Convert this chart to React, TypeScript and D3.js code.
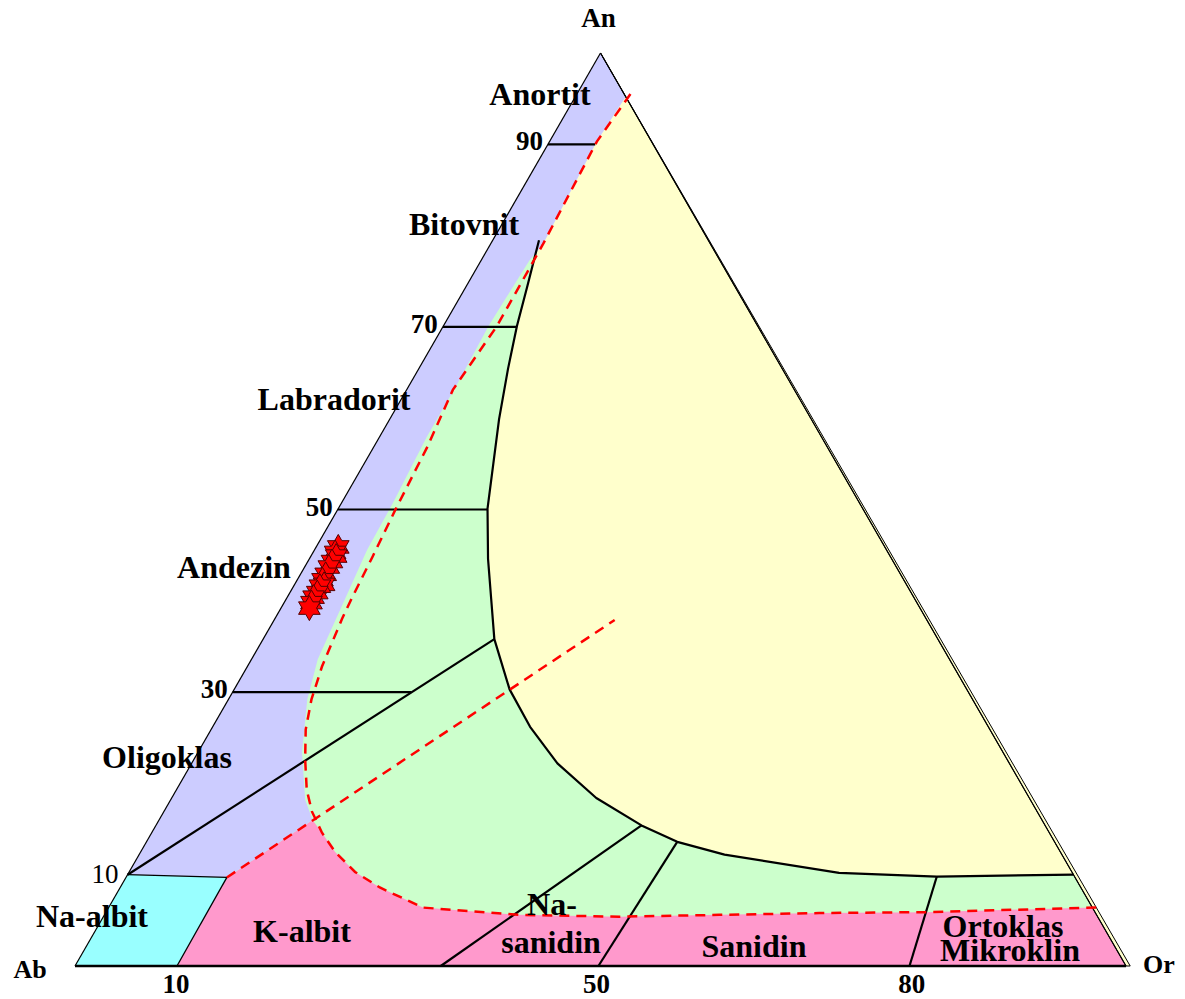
import React from 'react';
import * as d3 from 'd3';

// Ternary compositions as [An %, Or %]  (Ab = 100 - An - Or)
type TP = [number, number];

const samples: TP[] = [
  [45.9, 2.1], [45.3, 2.1], [44.9, 2.4], [44.3, 2.3], [43.7, 2.3], [42.9, 2.4],
  [42.3, 2.4], [41.8, 2.8], [41.6, 2.5], [40.9, 2.6], [40.4, 2.5], [39.8, 2.6],
  [39.2, 2.7],
];

// red dashed solvus
const solvus: TP[] = [
  [95.5, 5.1], [90.3, 4.5], [79.0, 5.0], [70.1, 5.1], [63.1, 4.4], [56.8, 5.1],
  [49.9, 5.5], [44.8, 5.9], [40.2, 6.2], [38.0, 6.4], [32.8, 7.1], [29.2, 7.9],
  [25.9, 9.0], [22.6, 10.6], [19.3, 12.4], [16.9, 14.1], [14.6, 16.2], [12.5, 18.5],
  [10.3, 21.5], [8.6, 24.7], [6.4, 29.9], [5.6, 39.5], [5.4, 49.1], [5.6, 58.5],
  [5.8, 67.9], [5.9, 78.0], [6.4, 94.0],
];
const solvusJoin: TP[] = [[9.7, 9.6], [37.9, 32.4]];

// black boundary of the ternary-feldspar (yellow) field
const feldsparLimit: TP[] = [
  [79.5, 4.4], [74.5, 5.8], [70.1, 7.0], [65.4, 8.5], [59.9, 10.4], [55.0, 12.3],
  [50.1, 14.2], [44.6, 17.0], [40.2, 19.5], [35.8, 22.0], [30.3, 26.2], [26.2, 30.2],
  [22.2, 34.8], [18.4, 40.4], [15.4, 46.2], [13.6, 50.5], [12.2, 55.7], [10.2, 67.6],
  [9.8, 77.1], [10.0, 90.0],
];

// plagioclase (blue) field inner edge
const plagioclaseEdge: TP[] = [
  [95.2, 4.8], [90.3, 4.5], [79.0, 5.0], [77.3, 4.6], [70.1, 4.3], [63.9, 4.5],
  [57.9, 4.5], [50.7, 4.9], [45.6, 5.0], [40.1, 5.6], [33.6, 6.3], [29.2, 7.5],
  [23.4, 9.9], [18.2, 12.8], [16.0, 14.6],
];

const anTicks = [90, 70, 50, 30];
const anTickEndOr = [4.5, 7.0, 14.2, 17.0];
const orTicks = [10, 50, 80];

const divisionLines: TP[][] = [
  [[10, 0], [35.8, 22.0]],
  [[0, 34.8], [15.4, 46.2]],
  [[0, 49.8], [13.6, 50.5]],
  [[0, 79.4], [9.8, 77.1]],
];
const albitLines: TP[][] = [
  [[10, 0], [9.7, 9.6]],
  [[0, 9.7], [9.7, 9.6]],
];

const regionNames = [
  'Anortit', 'Bitovnit', 'Labradorit', 'Andezin', 'Oligoklas', 'Na-albit',
  'K-albit', 'Na-', 'sanidin', 'Sanidin', 'Ortoklas', 'Mikroklin',
];
const regionLayout: [number, number][] = [
  [540, 105], [464, 235], [334, 410], [234, 578], [167, 768], [92, 927],
  [302, 942], [552, 915], [551, 953], [754, 957], [1003, 937], [1010, 961],
];

const xS = d3.scaleLinear().domain([0, 100]).range([75, 1126]);
const yS = d3.scaleLinear().domain([0, 100]).range([966, 53]);
const proj = (p: TP): [number, number] => [xS(p[1] + p[0] / 2), yS(p[0])];

const line = d3.line<TP>().x((d) => proj(d)[0]).y((d) => proj(d)[1]);
const poly = (pts: TP[]) => line(pts) + 'Z';

const hexStar = (() => {
  const pts: [number, number][] = [];
  const R = 12.5, r = 7.2;
  for (let i = 0; i < 12; i++) {
    const a = (i * Math.PI) / 6 - Math.PI / 2;
    const rr = i % 2 === 0 ? R : r;
    pts.push([rr * Math.cos(a), rr * Math.sin(a)]);
  }
  return d3.line()(pts) + 'Z';
})();

const FONT = '"Liberation Serif", "Times New Roman", serif';

export default function App() {
  const A: TP = [100, 0];
  const B: TP = [0, 0];
  const C: TP = [0, 100];

  const greenPoly: TP[] = [...feldsparLimit, [0, 100], [0, 0], [79.5, 0]];
  const bluePoly: TP[] = [[10, 0], [100, 0], ...plagioclaseEdge, [9.7, 9.6]];
  const pinkIdx = solvus.findIndex((p) => p[0] < 16);
  const pinkPoly: TP[] = [[0, 9.7], [9.7, 9.6], [16.0, 14.6], ...solvus.slice(pinkIdx, solvus.length - 1), [6.4, 93.6], [0, 100]];
  const cyanPoly: TP[] = [[0, 0], [10, 0], [9.7, 9.6], [0, 9.7]];

  return (
    <svg width={1185} height={999} style={{ position: 'absolute', left: 0, top: 0, background: '#fff' }}
      fontFamily={FONT}>
      <path d={poly([A, B, C])} fill="#ffffcc" />
      <path d={poly(greenPoly)} fill="#ccffcc" />
      <path d={poly(pinkPoly)} fill="#ff99cc" />
      <path d={poly(bluePoly)} fill="#ccccff" />
      <path d={poly(cyanPoly)} fill="#99ffff" />

      {/* outer double edge on the right */}
      <path d={poly([A, [0, 100.4], C])} fill="#ffffcc" stroke="#000" strokeWidth={1} />

      {/* triangle edges */}
      <path d={line([B, A])!} stroke="#000" strokeWidth={1.2} fill="none" />
      <path d={line([A, C])!} stroke="#000" strokeWidth={1.2} fill="none" />
      <path d={line([B, C])!} stroke="#000" strokeWidth={2.5} fill="none" />

      {/* An division ticks */}
      {anTicks.map((t, i) => (
        <path key={'t' + t} d={line([[t, 0], [t, anTickEndOr[i]]])!} stroke="#000" strokeWidth={2.2} fill="none" />
      ))}
      {albitLines.map((l, i) => (
        <path key={'a' + i} d={line(l)!} stroke="#000" strokeWidth={1.3} fill="none" />
      ))}
      {divisionLines.map((l, i) => (
        <path key={'d' + i} d={line(l)!} stroke="#000" strokeWidth={2.2} fill="none" />
      ))}
      <path d={line(feldsparLimit)!} stroke="#000" strokeWidth={2.2} fill="none" strokeLinejoin="round" />

      {/* dashed solvus */}
      <path d={line(solvus)!} stroke="#ff0000" strokeWidth={2.5} strokeDasharray="10,7" fill="none" />
      <path d={line(solvusJoin)!} stroke="#ff0000" strokeWidth={2.5} strokeDasharray="10,7" fill="none" />

      {/* samples */}
      {samples.map((s, i) => {
        const [x, y] = proj(s);
        return <path key={'s' + i} d={hexStar} transform={`translate(${x},${y})`} fill="#ff0000" stroke="#550000" strokeWidth={1} />;
      })}

      {/* tick labels */}
      {anTicks.map((t) => {
        const [x, y] = proj([t, 0]);
        return (
          <text key={'l' + t} x={x - 5} y={y + 6} textAnchor="end" fontSize={27} fontWeight="bold">{t}</text>
        );
      })}
      {(() => {
        const [x, y] = proj([10, 0]);
        return <text x={x - 9} y={y + 8} textAnchor="end" fontSize={27}>10</text>;
      })()}
      {orTicks.map((t) => {
        const [x, y] = proj([0, t]);
        return (
          <text key={'o' + t} x={x - 4} y={y + 27} textAnchor="middle" fontSize={27} fontWeight="bold">{t}</text>
        );
      })}

      {/* apex labels */}
      <text x={proj(A)[0] - 2} y={27} textAnchor="middle" fontSize={27} fontWeight="bold">An</text>
      <text x={30} y={978} textAnchor="middle" fontSize={26} fontWeight="bold">Ab</text>
      <text x={1159} y={973} textAnchor="middle" fontSize={26} fontWeight="bold">Or</text>

      {regionNames.map((n, i) => (
        <text key={n} x={regionLayout[i][0]} y={regionLayout[i][1]} textAnchor="middle" fontSize={32} fontWeight="bold">{n}</text>
      ))}
    </svg>
  );
}
